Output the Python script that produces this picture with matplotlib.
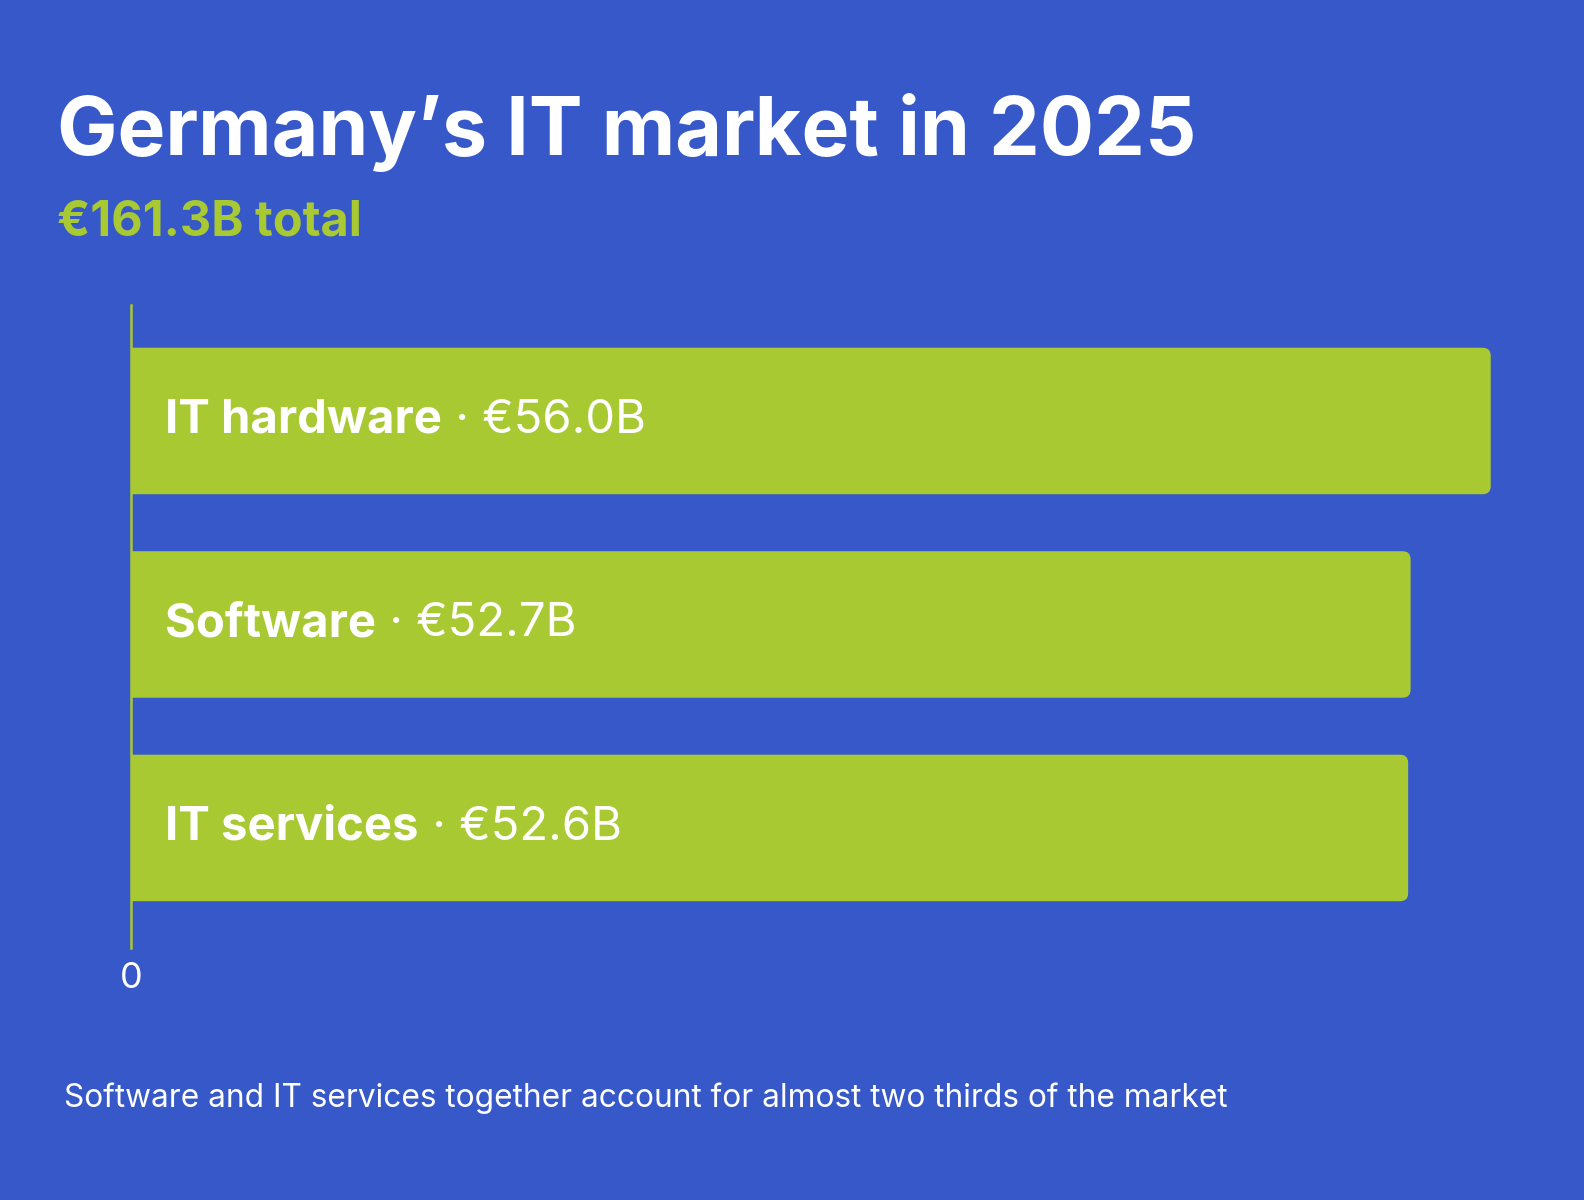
import matplotlib
matplotlib.use("Agg")
import matplotlib.pyplot as plt
from matplotlib.patches import FancyBboxPatch

# data
categories = ["IT hardware", "Software", "IT services"]
values = [56.0, 52.7, 52.6]
value_labels = ["€56.0B", "€52.7B", "€52.6B"]
title = "Germany’s IT market in 2025"
subtitle = "€161.3B total"
footnote = "Software and IT services together account for almost two thirds of the market"

BG = "#3658C8"
GREEN = "#A9C932"
WHITE = "#FFFFFF"

plt.rcParams["font.family"] = ["Inter", "DejaVu Sans"]

W, H = 1584, 1200
fig = plt.figure(figsize=(W / 100, H / 100), dpi=100, facecolor=BG)

# axes placed in pixel terms of the reference
left, right, top, bottom = 131, 1515, 305, 948
ax = fig.add_axes([left / W, 1 - bottom / H, (right - left) / W, (bottom - top) / H])
ax.set_facecolor(BG)

ypos = list(range(len(categories)))
bars = ax.barh(ypos, values, height=0.72, color=GREEN)
ax.set_xlim(0, 57)
ax.set_ylim(2.59, -0.57)

# swap plain rects for ones with rounded right corners
rx = 0.33
ry = 0.039
for rect in bars:
    x, y = rect.get_x(), rect.get_y()
    w, h = rect.get_width(), rect.get_height()
    rect.set_visible(False)
    p = FancyBboxPatch((x - 1, y), w + 1, h,
                       boxstyle=f"round,pad=0,rounding_size={rx}",
                       mutation_aspect=ry / rx,
                       facecolor=GREEN, edgecolor="none", clip_on=True)
    ax.add_patch(p)
    p.set_clip_path(ax.patch)

for i, (name, lab) in enumerate(zip(categories, value_labels)):
    t = ax.annotate(name, xy=(0, i), xytext=(24.5, 0), textcoords="offset points",
                    va="center", ha="left", fontsize=34, fontweight="bold", color=WHITE)
    ax.annotate(" · " + lab, xy=(1, 0), xycoords=t, va="bottom", ha="left",
                fontsize=34, color=WHITE)

for s in ["top", "right", "bottom"]:
    ax.spines[s].set_visible(False)
ax.spines["left"].set_color(GREEN)
ax.spines["left"].set_linewidth(1.8)
ax.spines["left"].set_zorder(5)

ax.set_yticks([])
ax.set_xticks([0])
ax.set_xticklabels(["0"])
ax.tick_params(axis="x", length=0, pad=10, labelsize=26, labelcolor=WHITE)

fig.text(57 / W, 1 - 155 / H, title, fontsize=58, fontweight="bold",
         color=WHITE, ha="left", va="baseline")
fig.text(57 / W, 1 - 235 / H, subtitle, fontsize=35, fontweight="bold",
         color=GREEN, ha="left", va="baseline")
fig.text(64 / W, 1 - 1107 / H, footnote, fontsize=22.8, color=WHITE,
         ha="left", va="baseline")

fig.savefig("out.png", dpi=100, facecolor=BG)
